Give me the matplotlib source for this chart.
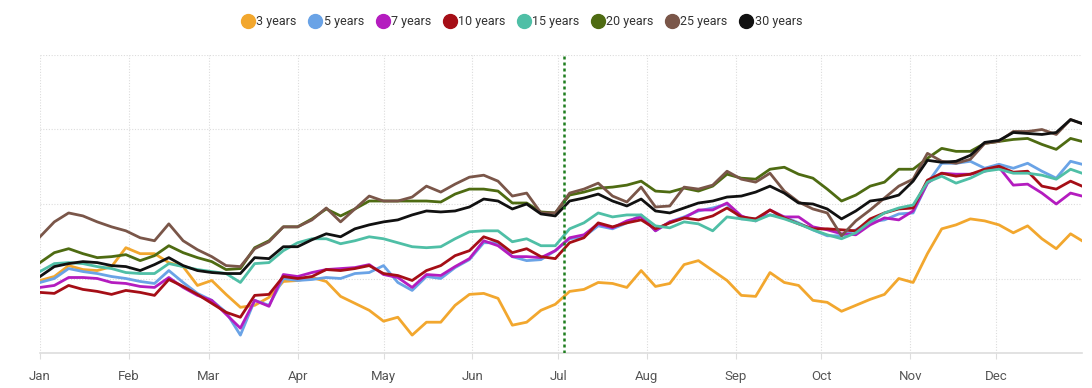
import matplotlib
matplotlib.use("Agg")
import matplotlib.pyplot as plt
import matplotlib.dates as mdates
import numpy as np
import pandas as pd

# sample dates: every 5 days through the year
day_offsets = list(range(0, 361, 5)) + [364]
dates = pd.Timestamp("2023-01-01") + pd.to_timedelta(day_offsets, unit="D")

y3 = [73, 77, 88, 84, 83, 87, 106, 100, 100, 91, 87, 68, 73, 59, 46, 48, 56, 72, 73, 76,
      72, 57, 50, 43, 32, 36, 18, 31, 31, 48, 59, 60, 55, 28, 31, 43, 49, 62, 64, 71,
      70, 66, 83, 67, 70, 89, 93, 83, 73, 58, 57, 81, 71, 68, 53, 51, 42, 48, 54, 59,
      75, 71, 100, 125, 129, 135, 133, 129, 121, 128, 115, 105, 120, 113]
y5 = [71, 75, 85, 82, 80, 77, 75, 72, 70, 83, 71, 60, 53, 41, 18, 53, 48, 75, 73, 74,
      76, 75, 80, 81, 88, 71, 63, 77, 75, 86, 94, 111, 111, 97, 93, 94, 103, 115, 117, 128,
      125, 131, 139, 123, 132, 137, 143, 146, 150, 135, 135, 139, 137, 131, 124, 118, 118, 124, 132, 134,
      140, 141, 171, 191, 191, 193, 186, 190, 186, 191, 183, 176, 193, 190]
y7 = [66, 68, 76, 76, 75, 71, 70, 67, 66, 76, 66, 58, 53, 39, 25, 53, 47, 79, 77, 81,
      84, 85, 86, 89, 79, 76, 66, 79, 78, 87, 95, 113, 108, 97, 97, 96, 103, 116, 119, 130,
      126, 133, 137, 123, 132, 136, 144, 144, 151, 138, 133, 144, 137, 137, 127, 124, 120, 119, 129, 136,
      134, 143, 171, 181, 180, 180, 183, 187, 169, 170, 161, 150, 161, 158]
y10 = [61, 60, 68, 64, 62, 59, 63, 61, 58, 74, 67, 59, 50, 41, 36, 58, 59, 77, 75, 77,
       84, 83, 85, 88, 80, 78, 73, 83, 88, 98, 103, 117, 112, 101, 105, 97, 95, 111, 116, 131,
       127, 131, 134, 125, 131, 136, 134, 138, 146, 137, 135, 144, 136, 130, 125, 125, 124, 123, 135, 141,
       145, 146, 174, 181, 178, 180, 185, 188, 182, 183, 168, 165, 173, 168]
y15 = [82, 90, 91, 90, 87, 85, 81, 80, 80, 90, 87, 84, 82, 80, 71, 90, 91, 103, 111, 115,
       115, 110, 113, 117, 115, 111, 107, 106, 107, 115, 122, 123, 123, 112, 115, 108, 108, 125, 131, 141,
       137, 139, 139, 128, 126, 132, 130, 123, 137, 135, 133, 139, 135, 130, 124, 119, 115, 121, 132, 141,
       146, 149, 172, 178, 171, 176, 183, 185, 181, 181, 179, 175, 185, 181]
y20 = [91, 101, 105, 100, 96, 97, 99, 93, 98, 108, 101, 96, 92, 84, 85, 106, 113, 127, 127, 135,
       145, 138, 145, 153, 153, 153, 153, 153, 152, 160, 165, 165, 163, 151, 151, 142, 141, 159, 162, 166,
       167, 169, 173, 163, 162, 166, 163, 168, 180, 176, 175, 185, 187, 180, 176, 165, 153, 159, 168, 172,
       185, 185, 196, 206, 203, 203, 211, 213, 215, 216, 210, 205, 216, 213]
y25 = [117, 132, 141, 138, 132, 127, 123, 116, 113, 130, 113, 104, 97, 88, 87, 105, 112, 127, 127, 134,
       146, 132, 145, 158, 153, 153, 157, 168, 162, 170, 177, 179, 173, 158, 161, 141, 141, 161, 165, 171,
       158, 152, 167, 147, 148, 167, 165, 169, 183, 175, 172, 181, 163, 152, 145, 141, 118, 133, 144, 156,
       168, 175, 201, 193, 191, 195, 211, 213, 223, 223, 225, 220, 235, 231]
y30 = [77, 87, 90, 92, 91, 88, 87, 83, 89, 96, 88, 83, 81, 80, 80, 96, 95, 107, 107, 114,
       120, 117, 125, 129, 132, 134, 139, 143, 142, 143, 147, 155, 153, 145, 150, 140, 138, 153, 156, 160,
       153, 148, 155, 143, 141, 146, 151, 153, 157, 158, 162, 168, 161, 151, 150, 145, 135, 143, 153, 155,
       159, 173, 194, 192, 193, 199, 212, 214, 222, 221, 220, 222, 235, 231]

series_labels = ["3 years", "5 years", "7 years", "10 years", "15 years", "20 years", "25 years", "30 years"]
series_values = [y3, y5, y7, y10, y15, y20, y25, y30]
series_colors = ["#f2a72e", "#6aa3e6", "#b41cbf", "#a50e16", "#4fbfa6", "#4e6b12", "#7a5649", "#111111"]

marker_date = pd.Timestamp("2023-07-03")
month_labels = ["Jan", "Feb", "Mar", "Apr", "May", "Jun", "Jul", "Aug", "Sep", "Oct", "Nov", "Dec"]
month_starts = pd.date_range("2023-01-01", periods=12, freq="MS")
y_grid = [75, 150, 225, 300]

plt.rcParams["font.family"] = ["Roboto", "DejaVu Sans"]
fig = plt.figure(figsize=(10.92, 3.88), dpi=100)
ax = fig.add_axes([40 / 1092, 35 / 388, 1042 / 1092, 298 / 388])

for lab, vals, col in zip(series_labels, series_values, series_colors):
    ax.plot(dates, vals, color=col, lw=2.0, label=lab, solid_joinstyle="round", zorder=3)

ax.axvline(marker_date, color="#1e7d1e", lw=1.8, ls=(0, (1.2, 1.2)), zorder=4)

ax.set_xlim(pd.Timestamp("2023-01-01"), pd.Timestamp("2023-12-31"))
ax.set_ylim(0, 300)
ax.set_xticks(month_starts)
ax.set_xticklabels(month_labels)
ax.set_yticks(y_grid)
ax.tick_params(axis="y", left=False, labelleft=False)
ax.tick_params(axis="x", length=4, color="#dddddd", labelsize=9.5, labelcolor="#555555", pad=8)
ax.grid(True, color="#dcdcdc", ls=(0, (1, 1.5)), lw=0.8)
for s in ["top", "right", "left"]:
    ax.spines[s].set_visible(False)
ax.spines["bottom"].set_color("#dddddd")
ax.spines["bottom"].set_linewidth(1.2)

handles = [plt.Line2D([], [], marker="o", ls="", markersize=10, color=c) for c in series_colors]
fig.legend(handles, series_labels, loc="center", bbox_to_anchor=(522 / 1092, 1 - 22 / 388),
           ncol=8, frameon=False, fontsize=9, handletextpad=0.15, columnspacing=1.0,
           labelcolor="#333333", handlelength=1.0)

fig.savefig("out.png", dpi=100)
